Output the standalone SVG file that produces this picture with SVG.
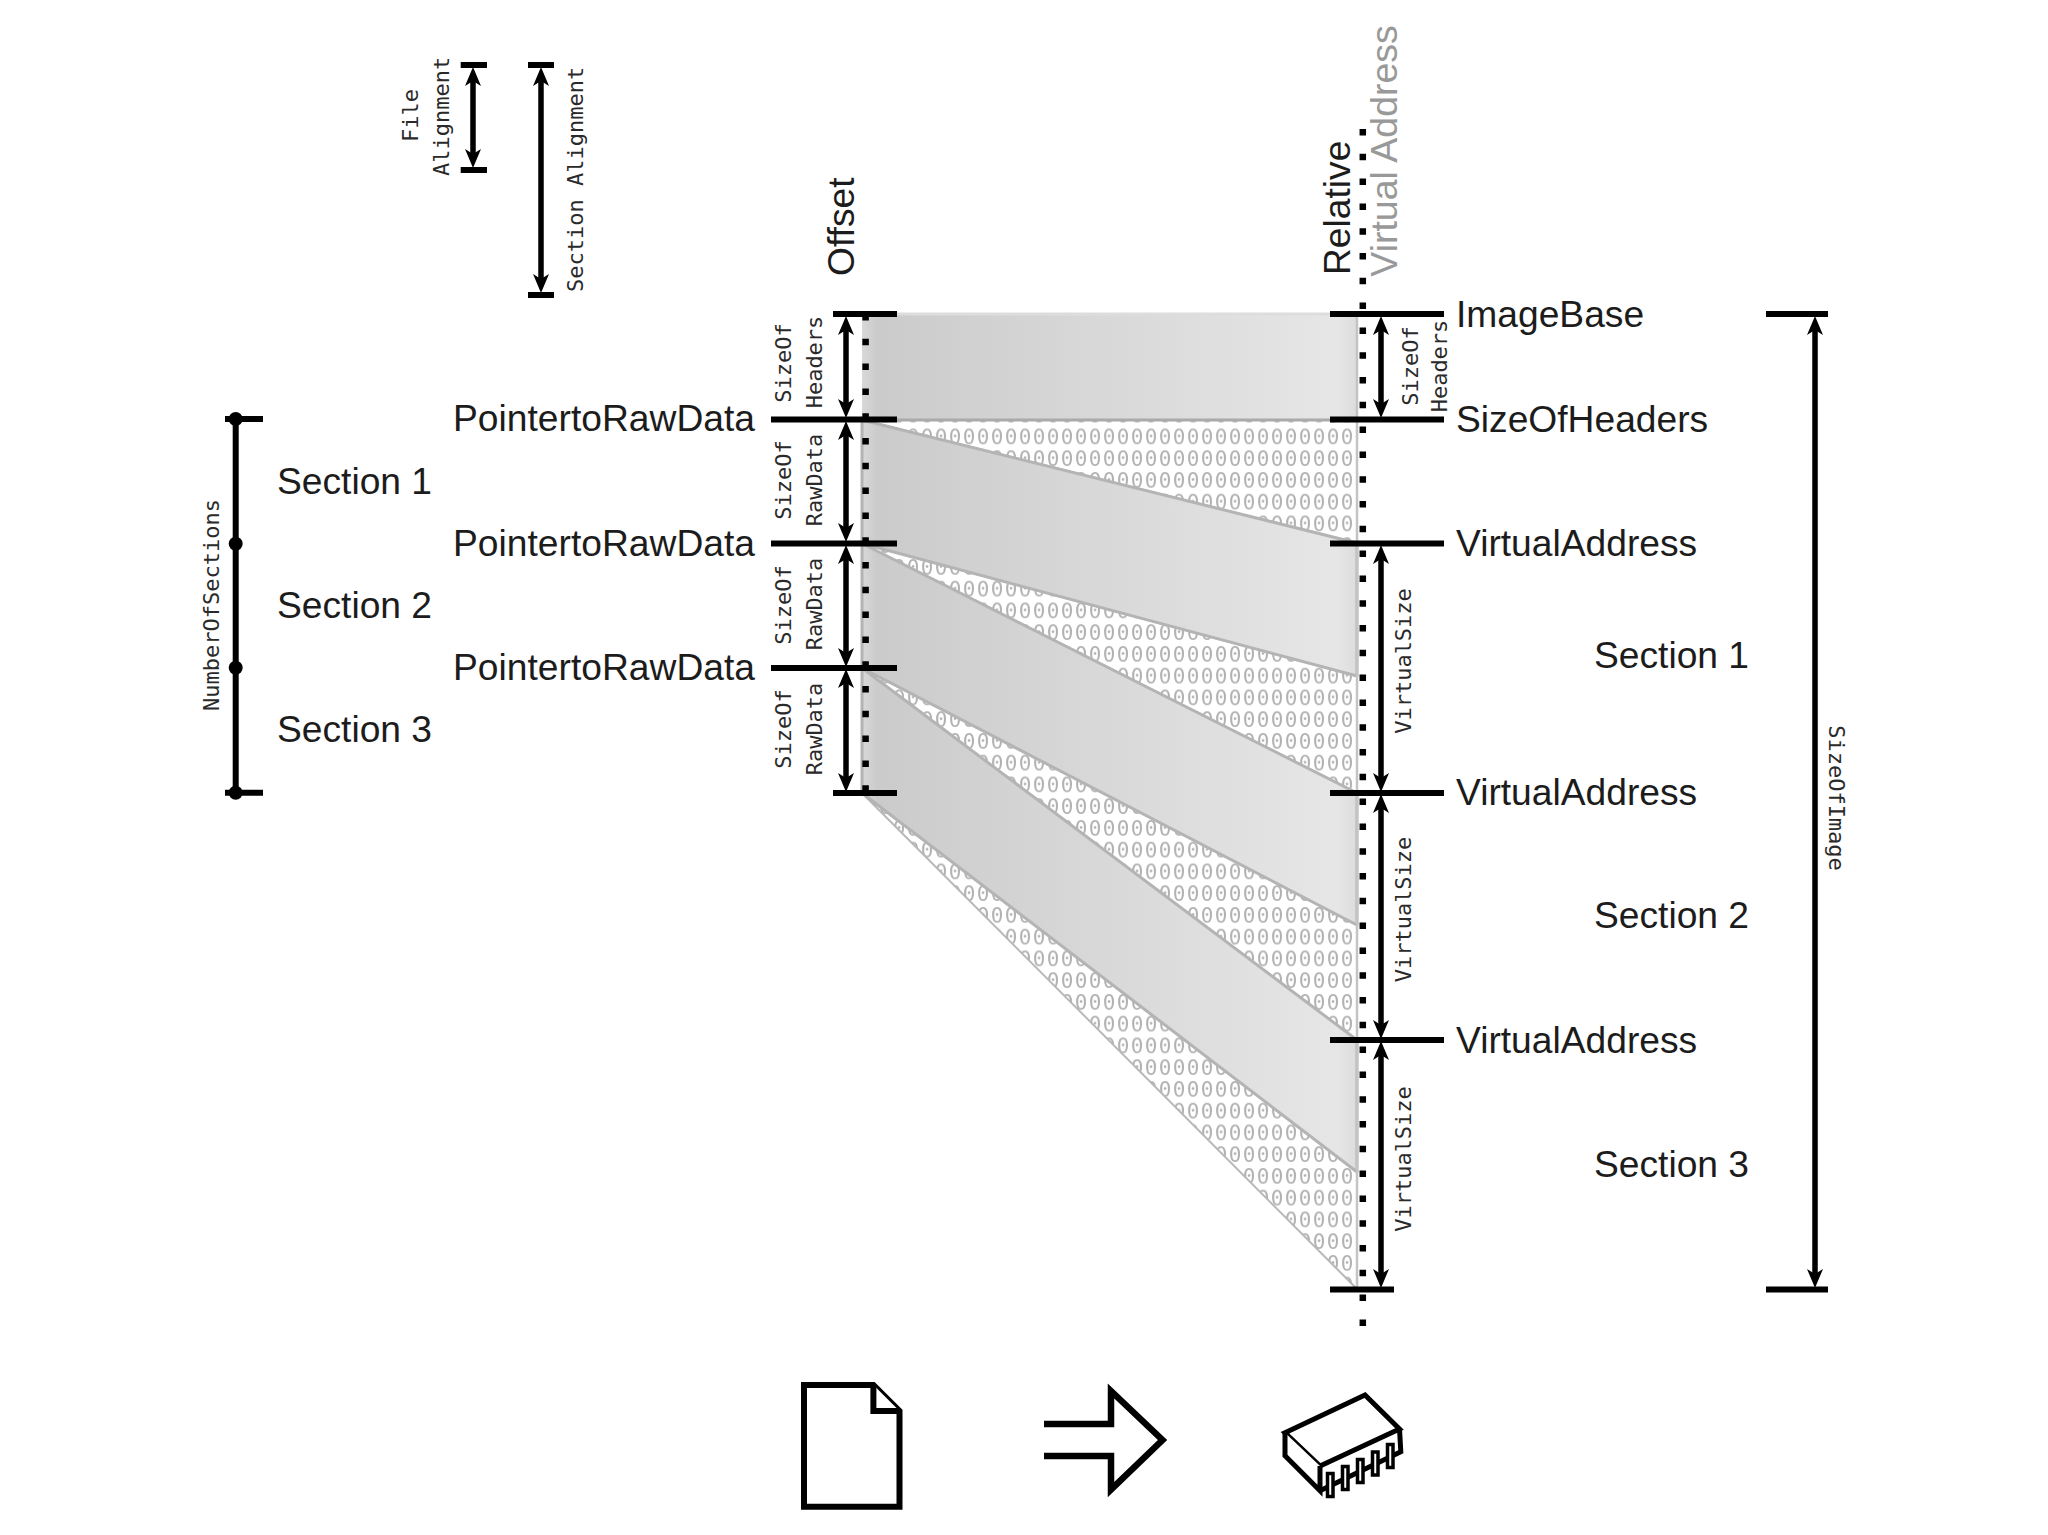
<svg xmlns="http://www.w3.org/2000/svg" width="2048" height="1535" viewBox="0 0 2048 1535">
<style>
.t{font-family:"Liberation Sans",Arial,sans-serif;font-size:37.2px;fill:#1c1c1c}
.m{font-family:"DejaVu Sans Mono",monospace;font-size:22px;fill:#2a2a2a;text-anchor:middle}
.ms{font-family:"DejaVu Sans Mono",monospace;font-size:22px;fill:#2a2a2a}
.tick{stroke:#000;stroke-width:6;fill:none}
.arr{stroke:#000;stroke-width:5.5;fill:none;marker-start:url(#ah);marker-end:url(#ah)}
.dots{stroke:#000;stroke-width:6.5;fill:none;stroke-dasharray:6.5 18.3}
.sec{fill:url(#g);stroke:#b4b4b4;stroke-width:3;stroke-linejoin:round}
.hat{fill:url(#z);stroke:#b8b8b8;stroke-width:2}
.ic{stroke:#000;stroke-width:6;fill:#fff;stroke-linejoin:miter}
.chip{stroke:#000;stroke-width:5;fill:#fff;stroke-linejoin:miter}
.pin{stroke:#000;stroke-width:3.5;fill:#fff}
</style>
<defs>
<linearGradient id="g" x1="0" x2="1" y1="0" y2="0">
<stop offset="0" stop-color="#d8d8d8"/><stop offset=".03" stop-color="#cbcbcb"/><stop offset=".96" stop-color="#e6e6e6"/><stop offset="1" stop-color="#dcdcdc"/>
</linearGradient>
<pattern id="z" patternUnits="userSpaceOnUse" x="1340" y="425.5" width="14" height="21.75">
<text x="7" y="18.5" text-anchor="middle" font-family="DejaVu Sans Mono,monospace" font-size="21" fill="#b2b2b2">0</text>
</pattern>
<marker id="ah" markerUnits="userSpaceOnUse" markerWidth="22" markerHeight="18" refX="8" refY="9" orient="auto-start-reverse" viewBox="0 0 22 18">
<path d="M19 9 L0 1 L5 9 L0 17 Z" fill="#000"/>
</marker>
</defs>
<rect width="2048" height="1535" fill="#fff"/>

<g id="mapping">
<polygon class="hat" points="862,420 1357,420 1357,543"/>
<polygon class="hat" points="862,543.5 1357,676 1357,793"/>
<polygon class="hat" points="862,668 1357,925 1357,1040"/>
<polygon class="hat" points="862,793 1357,1172 1357,1289"/>
<rect x="862" y="314" width="495" height="106" fill="url(#g)"/>
<line x1="862" y1="420" x2="1357" y2="420" stroke="#aaa" stroke-width="3"/>
<line x1="880" y1="314" x2="1340" y2="314" stroke="#ddd" stroke-width="3"/>
<polygon class="sec" points="862,420 1357,543 1357,676 862,543.5"/>
<polygon class="sec" points="862,543.5 1357,793 1357,925 862,668"/>
<polygon class="sec" points="862,668 1357,1040 1357,1172 862,793"/>
<line x1="1357" y1="314" x2="1357" y2="1289" stroke="#c4c4c4" stroke-width="2.5"/>
</g>

<g id="connectors">
<line class="dots" x1="865.6" y1="314" x2="865.6" y2="793"/>
<line class="dots" x1="1362.8" y1="129" x2="1362.8" y2="1330"/>
<path class="tick" d="M833 314H897M771 419.5H897M771 543.5H897M771 668H897M833 793H897"/>
<path class="tick" d="M1330 314H1444M1330 419.5H1444M1330 543.5H1444M1330 793H1444M1330 1040H1444M1330 1289.5H1394"/>
<line class="arr" x1="846" y1="327" x2="846" y2="407"/>
<line class="arr" x1="846" y1="432" x2="846" y2="531"/>
<line class="arr" x1="846" y1="556" x2="846" y2="656"/>
<line class="arr" x1="846" y1="680" x2="846" y2="781"/>
<line class="arr" x1="1381" y1="327" x2="1381" y2="407"/>
<line class="arr" x1="1381" y1="556" x2="1381" y2="781"/>
<line class="arr" x1="1381" y1="805" x2="1381" y2="1028"/>
<line class="arr" x1="1381" y1="1052" x2="1381" y2="1277"/>
<path class="tick" d="M1766 314H1828M1766 1289.5H1828"/>
<line class="arr" x1="1815" y1="327" x2="1815" y2="1277"/>
<path class="tick" d="M460.7 65H487M460.7 170H487M528 65H554M528 295H554"/>
<line class="arr" x1="473" y1="78" x2="473" y2="157"/>
<line class="arr" x1="541" y1="78" x2="541" y2="282"/>
<path class="tick" d="M225 419H263M225 792.7H263M235.7 419V792.7"/>
<circle cx="235.7" cy="419" r="7"/><circle cx="235.7" cy="543.7" r="7"/><circle cx="235.7" cy="667.7" r="7"/><circle cx="235.7" cy="792.7" r="7"/>
</g>

<g id="alignment-labels">
<text class="ms" transform="translate(418 142) rotate(-90)">File</text>
<text class="ms" transform="translate(449 176) rotate(-90)">Alignment</text>
<text class="ms" transform="translate(583 292) rotate(-90)">Section Alignment</text>
</g>

<g id="column-heads">
<text class="t" transform="translate(854 276) rotate(-90)">Offset</text>
<text class="t" transform="translate(1350 275) rotate(-90)">Relative</text>
<text class="t" style="fill:#999;font-size:37.5px" transform="translate(1396.7 276.7) rotate(-90)">Virtual Address</text>
</g>

<g id="file-labels">
<text class="t" x="277" y="494">Section 1</text>
<text class="t" x="277" y="618">Section 2</text>
<text class="t" x="277" y="742">Section 3</text>
<text class="t" x="453" y="431" textLength="302">PointertoRawData</text>
<text class="t" x="453" y="556" textLength="302">PointertoRawData</text>
<text class="t" x="453" y="680" textLength="302">PointertoRawData</text>
<text class="m" transform="translate(219.3 605) rotate(-90)">NumberOfSections</text>
<text class="m" transform="translate(791 363) rotate(-90)">SizeOf</text>
<text class="m" transform="translate(822 362) rotate(-90)">Headers</text>
<text class="m" transform="translate(791 480) rotate(-90)">SizeOf</text>
<text class="m" transform="translate(822 480) rotate(-90)">RawData</text>
<text class="m" transform="translate(791 605) rotate(-90)">SizeOf</text>
<text class="m" transform="translate(822 604) rotate(-90)">RawData</text>
<text class="m" transform="translate(791 729) rotate(-90)">SizeOf</text>
<text class="m" transform="translate(822 729) rotate(-90)">RawData</text>
</g>

<g id="memory-labels">
<text class="m" transform="translate(1417.5 366) rotate(-90)">SizeOf</text>
<text class="m" transform="translate(1447 366) rotate(-90)">Headers</text>
<text class="m" transform="translate(1410.5 661) rotate(-90)">VirtualSize</text>
<text class="m" transform="translate(1410.5 909.5) rotate(-90)">VirtualSize</text>
<text class="m" transform="translate(1410.5 1159) rotate(-90)">VirtualSize</text>
<text class="m" transform="translate(1829 798) rotate(90)">SizeOfImage</text>
<text class="t" x="1456" y="327">ImageBase</text>
<text class="t" x="1456" y="432">SizeOfHeaders</text>
<text class="t" x="1456" y="556">VirtualAddress</text>
<text class="t" x="1456" y="805">VirtualAddress</text>
<text class="t" x="1456" y="1053">VirtualAddress</text>
<text class="t" x="1594" y="668">Section 1</text>
<text class="t" x="1594" y="928">Section 2</text>
<text class="t" x="1594" y="1177">Section 3</text>
</g>

<g id="icon-file">
<path class="ic" d="M804 1385H873.4L899.5 1411V1506.7H804Z"/>
<path class="ic" d="M873.4 1385V1411H899.5"/>
</g>
<g id="icon-arrow">
<path class="ic" style="stroke-width:6.5" d="M1044 1424H1111V1391L1162.5 1440L1111 1489.5V1456H1044"/>
</g>
<g id="icon-chip">
<path class="chip" d="M1285 1432.7L1365 1395L1399.5 1429L1320 1466Z"/>
<path class="chip" d="M1285 1432.7V1455.7L1320 1490.7V1466"/>
<path class="chip" style="fill:none" d="M1399.5 1429L1400.8 1451.7L1320 1490.7"/>
<rect class="pin" x="1327.5" y="1473.5" width="5.5" height="23"/>
<rect class="pin" x="1342.5" y="1466.5" width="5.5" height="23"/>
<rect class="pin" x="1357.5" y="1459.5" width="5.5" height="23"/>
<rect class="pin" x="1372.5" y="1452" width="5.5" height="23"/>
<rect class="pin" x="1387.5" y="1444.5" width="5.5" height="23"/>
</g>
</svg>
